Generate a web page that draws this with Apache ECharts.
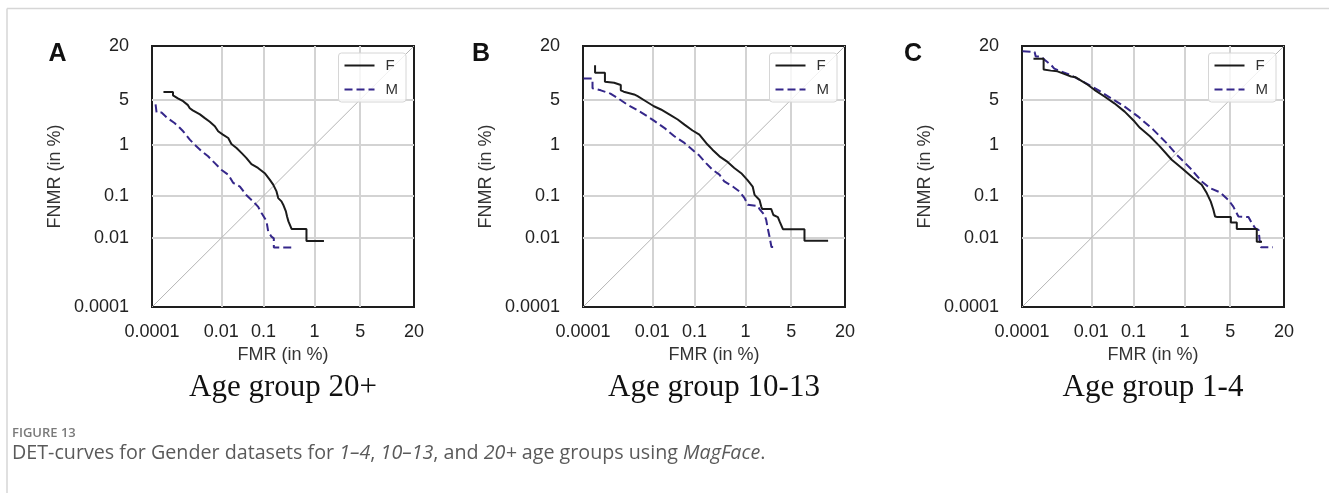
<!DOCTYPE html>
<html>
<head>
<meta charset="utf-8">
<script src="https://cdn.jsdelivr.net/npm/echarts@6/dist/echarts.min.js"></script>
<style>
html, body { margin: 0; padding: 0; background: #fff; }
#chart { width: 1329px; height: 493px; }
</style>
</head>
<body>
<div id="chart"></div>
<script>
// Tick positions (in %) shared by both axes of every panel
const tickValues = [0.0001, 0.01, 0.1, 1, 5, 20];
const tickLabels = ['0.0001', '0.01', '0.1', '1', '5', '20'];
const diagonalPct = [0.0001, 20];

const panelLetters = ['A', 'B', 'C'];
const panelTitles = ['Age group 20+', 'Age group 10-13', 'Age group 1-4'];
const seriesNames = ['F', 'M'];

// Age group 20+  (FMR %, FNMR %)
const fmr20F = [0.00023, 0.00045, 0.00045, 0.00063, 0.0009, 0.00124, 0.0014, 0.0017, 0.0027, 0.0036, 0.005, 0.0068, 0.0083, 0.011, 0.015, 0.018, 0.024, 0.032, 0.041, 0.054, 0.076, 0.107, 0.138, 0.162, 0.19, 0.206, 0.24, 0.26, 0.294, 0.31, 0.33, 0.36, 0.38, 0.72, 0.72, 1.44];
const fnmr20F = [6.3, 6.3, 5.7, 5.2, 4.75, 4.2, 3.8, 3.55, 3.1, 2.75, 2.4, 2.05, 1.7, 1.5, 1.32, 1.04, 0.89, 0.72, 0.59, 0.45, 0.38, 0.30, 0.22, 0.175, 0.126, 0.09, 0.076, 0.064, 0.045, 0.034, 0.026, 0.025, 0.017, 0.017, 0.0084, 0.0084];
const fmr20M = [0.00013, 0.00014, 0.0002, 0.0003, 0.0005, 0.0007, 0.0009, 0.0014, 0.0019, 0.003, 0.0045, 0.0068, 0.01, 0.015, 0.02, 0.029, 0.041, 0.059, 0.076, 0.091, 0.107, 0.117, 0.127, 0.149, 0.167, 0.167, 0.38];
const fnmr20M = [4.3, 3.3, 3.3, 2.75, 2.3, 1.95, 1.7, 1.24, 1.02, 0.78, 0.63, 0.47, 0.35, 0.28, 0.19, 0.16, 0.105, 0.076, 0.058, 0.041, 0.031, 0.026, 0.0146, 0.0108, 0.0098, 0.0056, 0.0056];

// Age group 10-13
const fmr10F = [0.00024, 0.00024, 0.00048, 0.00048, 0.0009, 0.0014, 0.0014, 0.0017, 0.0033, 0.0041, 0.0068, 0.011, 0.0165, 0.029, 0.042, 0.06, 0.091, 0.128, 0.19, 0.24, 0.33, 0.48, 0.63, 0.84, 1.09, 1.32, 1.42, 1.71, 1.82, 1.89, 2.6, 2.8, 3.26, 3.45, 3.85, 7.4, 7.4, 13.7];
const fnmr10F = [12.9, 10.7, 10.7, 8.4, 8.2, 7.7, 6.6, 6.35, 5.85, 5.55, 4.75, 4.05, 3.65, 3.0, 2.6, 2.17, 1.75, 1.5, 1.02, 0.83, 0.63, 0.49, 0.38, 0.30, 0.214, 0.16, 0.106, 0.082, 0.058, 0.051, 0.051, 0.037, 0.033, 0.026, 0.0167, 0.0167, 0.0085, 0.0085];
const fmr10M = [0.000105, 0.0002, 0.0002, 0.00036, 0.0007, 0.0011, 0.0021, 0.0041, 0.0075, 0.011, 0.02, 0.035, 0.06, 0.1, 0.128, 0.177, 0.24, 0.33, 0.41, 0.59, 0.78, 0.96, 1.09, 1.6, 1.71, 2.05, 2.18, 2.3, 2.45, 2.62, 3.1];
const fnmr10M = [9.2, 9.2, 7.0, 6.6, 6.0, 5.3, 4.3, 3.55, 2.9, 2.5, 1.93, 1.41, 1.09, 0.77, 0.65, 0.47, 0.35, 0.28, 0.204, 0.16, 0.126, 0.09, 0.064, 0.06, 0.051, 0.037, 0.028, 0.0176, 0.0108, 0.0058, 0.0058];

// Age group 1-4
const fmr1F = [0.00023, 0.00047, 0.00047, 0.00077, 0.0012, 0.0021, 0.0029, 0.0039, 0.0054, 0.0081, 0.012, 0.0214, 0.037, 0.064, 0.106, 0.138, 0.223, 0.35, 0.59, 0.89, 1.4, 1.92, 2.3, 2.65, 2.9, 3.07, 3.3, 5.1, 5.1, 6.1, 6.1, 10.6, 10.6, 12.1];
const fnmr1F = [15.1, 15.1, 11.6, 11.3, 11.1, 10.2, 9.7, 9.5, 8.7, 7.75, 6.7, 5.5, 4.45, 3.4, 2.42, 1.93, 1.41, 0.95, 0.545, 0.38, 0.24, 0.175, 0.116, 0.075, 0.049, 0.034, 0.033, 0.033, 0.0243, 0.0243, 0.017, 0.017, 0.008, 0.008];
const fmr1M = [0.000104, 0.00025, 0.00027, 0.00039, 0.00049, 0.00077, 0.00097, 0.0015, 0.0029, 0.0066, 0.0146, 0.031, 0.064, 0.125, 0.26, 0.47, 0.72, 1.24, 1.92, 2.58, 3.62, 4.73, 5.5, 6.4, 8.5, 9.3, 10.2, 11.1, 11.4, 11.8, 15.7];
const fnmr1M = [17.9, 17.6, 15.9, 15.9, 14.8, 13.1, 11.9, 11.1, 10.0, 8.3, 6.7, 5.2, 4.0, 2.9, 1.81, 1.09, 0.68, 0.38, 0.204, 0.148, 0.12, 0.082, 0.058, 0.034, 0.033, 0.0235, 0.0176, 0.016, 0.0089, 0.0057, 0.0057];

const panels = [
  { F: [fmr20F, fnmr20F], M: [fmr20M, fnmr20M] },
  { F: [fmr10F, fnmr10F], M: [fmr10M, fnmr10M] },
  { F: [fmr1F, fnmr1F], M: [fmr1M, fnmr1M] }
];

// Inverse standard normal CDF (Acklam) -- DET plots use a normal-deviate scale
function probit(p) {
  const a = [-3.969683028665376e+01, 2.209460984245205e+02, -2.759285104469687e+02, 1.383577518672690e+02, -3.066479806614716e+01, 2.506628277459239e+00];
  const b = [-5.447609879822406e+01, 1.615858368580409e+02, -1.556989798598866e+02, 6.680131188771972e+01, -1.328068155288572e+01];
  const c = [-7.784894002430293e-03, -3.223964580411365e-01, -2.400758277161838e+00, -2.549732539343734e+00, 4.374664141464968e+00, 2.938163982698783e+00];
  const d = [7.784695709041462e-03, 3.224671290700398e-01, 2.445134137142996e+00, 3.754408661907416e+00];
  const pl = 0.02425, ph = 1 - pl;
  let q, r;
  if (p < pl) {
    q = Math.sqrt(-2 * Math.log(p));
    return (((((c[0] * q + c[1]) * q + c[2]) * q + c[3]) * q + c[4]) * q + c[5]) /
      ((((d[0] * q + d[1]) * q + d[2]) * q + d[3]) * q + 1);
  }
  if (p <= ph) {
    q = p - 0.5; r = q * q;
    return (((((a[0] * r + a[1]) * r + a[2]) * r + a[3]) * r + a[4]) * r + a[5]) * q /
      (((((b[0] * r + b[1]) * r + b[2]) * r + b[3]) * r + b[4]) * r + 1);
  }
  q = Math.sqrt(-2 * Math.log(1 - p));
  return -(((((c[0] * q + c[1]) * q + c[2]) * q + c[3]) * q + c[4]) * q + c[5]) /
    ((((d[0] * q + d[1]) * q + d[2]) * q + d[3]) * q + 1);
}
const toAxis = pct => probit(pct / 100);

const tickAxis = tickValues.map(toAxis);
const axisMin = toAxis(diagonalPct[0]);
const axisMax = toAxis(diagonalPct[1]);
function tickFormatter(v) {
  let best = 0, bd = Infinity;
  tickAxis.forEach((t, i) => { const dd = Math.abs(t - v); if (dd < bd) { bd = dd; best = i; } });
  return tickLabels[best];
}

const SANS = 'Liberation Sans';
const gridLefts = [152, 583, 1022];
const gridTop = 46, gridW = 262, gridH = 261;
const colorF = '#1b1b1b';
const colorM = '#35278a';

const grids = [], xAxes = [], yAxes = [], series = [], legends = [], graphics = [];

gridLefts.forEach((left, i) => {
  grids.push({
    left: left, top: gridTop, width: gridW, height: gridH,
    show: true, borderColor: '#1e1e1e', borderWidth: 2, backgroundColor: 'transparent'
  });
  const common = {
    type: 'value', gridIndex: i, min: axisMin, max: axisMax,
    axisLine: { show: false },
    axisTick: { show: false, customValues: tickAxis },
    splitLine: { show: true, showMinLine: false, showMaxLine: false, lineStyle: { color: '#d3d3d3', width: 2 } },
    nameLocation: 'middle',
    nameTextStyle: { fontFamily: SANS, fontSize: 18, color: '#333' }
  };
  xAxes.push(Object.assign({}, common, {
    name: 'FMR (in %)', nameGap: 39,
    axisLabel: { customValues: tickAxis, formatter: tickFormatter, fontFamily: SANS, fontSize: 18, color: '#222', margin: 16 }
  }));
  yAxes.push(Object.assign({}, common, {
    name: 'FNMR (in %)', nameGap: 88,
    axisLabel: { customValues: tickAxis, formatter: tickFormatter, fontFamily: SANS, fontSize: 18, color: '#222', margin: 23 }
  }));

  series.push({
    type: 'line', name: 'diagonal', xAxisIndex: i, yAxisIndex: i,
    data: diagonalPct.map(v => [toAxis(v), toAxis(v)]),
    symbol: 'none', silent: true, z: 1,
    lineStyle: { color: '#b5b5b5', width: 1 }
  });
  const p = panels[i];
  seriesNames.forEach(nm => {
    const [xs, ys] = p[nm];
    const isM = nm === 'M';
    series.push({
      type: 'line', name: nm, xAxisIndex: i, yAxisIndex: i,
      data: xs.map((v, k) => [toAxis(v), toAxis(ys[k])]),
      symbol: 'none', showSymbol: false, z: isM ? 3 : 4,
      itemStyle: { color: isM ? colorM : colorF },
      lineStyle: { color: isM ? colorM : colorF, width: 2, type: isM ? [8, 4] : 'solid' }
    });
  });

  legends.push({
    data: seriesNames, orient: 'vertical',
    right: 1329 - (left + gridW) + 8, top: 53,
    itemWidth: 30, itemHeight: 12, itemGap: 9,
    padding: [5, 8, 5, 5],
    borderColor: '#d6d6d6', borderWidth: 1, borderRadius: 3,
    backgroundColor: 'rgba(255,255,255,0.8)',
    // legend samples are plain line segments, no marker
    itemStyle: { opacity: 0 },
    textStyle: { fontFamily: SANS, fontSize: 15, color: '#333', padding: [0, 0, 0, 6] }
  });

  graphics.push({
    type: 'text', x: [57.5, 481, 913][i], y: 54,
    style: { text: panelLetters[i], font: 'bold 25px Liberation Sans', fill: '#111', align: 'center', verticalAlign: 'middle' }
  });
  graphics.push({
    type: 'text', x: left + gridW / 2, y: 388,
    style: { text: panelTitles[i], font: '31px Liberation Serif', fill: '#111', align: 'center', verticalAlign: 'middle' }
  });
});

// page frame and caption
graphics.push({ type: 'line', shape: { x1: 7, y1: 8.5, x2: 1329, y2: 8.5 }, style: { stroke: '#d6d6d6', lineWidth: 1.5 } });
graphics.push({ type: 'line', shape: { x1: 7, y1: 8.5, x2: 7, y2: 493 }, style: { stroke: '#d6d6d6', lineWidth: 1.5 } });
graphics.push({
  type: 'text', x: 12, y: 433,
  style: { text: 'FIGURE 13', font: '600 13px Open Sans', fill: '#7a7a7a', align: 'left', verticalAlign: 'middle' }
});
graphics.push({
  type: 'text', x: 12, y: 453,
  style: {
    text: 'DET-curves for Gender datasets for {i|1–4}, {i|10–13}, and {i|20+} age groups using {i|MagFace}.',
    font: '19.7px Open Sans', fill: '#5a5a5a', align: 'left', verticalAlign: 'middle',
    rich: { i: { fontStyle: 'italic', fontSize: 19.7, fontFamily: 'Open Sans', fill: '#5a5a5a' } }
  }
});

const chart = echarts.init(document.getElementById('chart'), null, { renderer: 'canvas' });
chart.setOption({
  animation: false,
  backgroundColor: '#fff',
  grid: grids, xAxis: xAxes, yAxis: yAxes,
  series: series, legend: legends, graphic: graphics
});
</script>
</body>
</html>
